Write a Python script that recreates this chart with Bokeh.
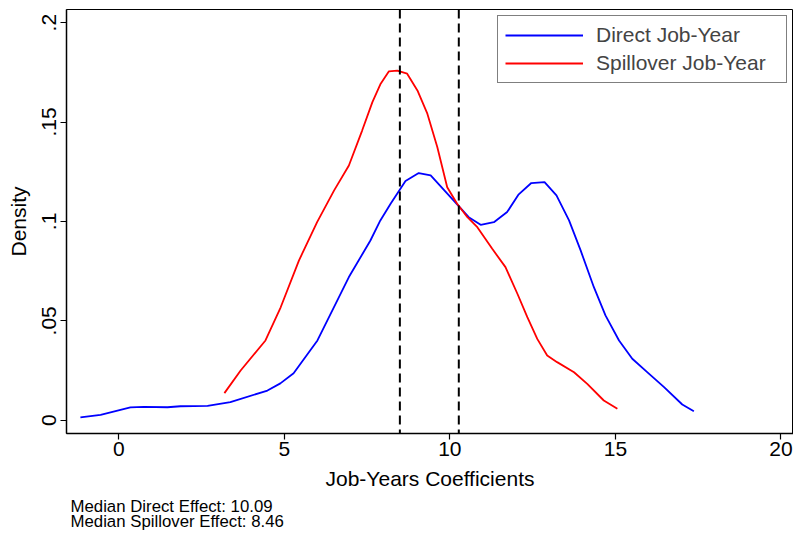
from bokeh.plotting import figure
from bokeh.models import Span, Legend, LegendItem, FixedTicker, Range1d, Title
from bokeh.embed import file_html
from bokeh.resources import INLINE

# ---- data ----
direct_x = [-1.16, -0.55, 0.35, 0.75, 1.47, 1.86, 2.68, 3.37, 4.49, 4.88, 5.28, 6.0, 6.95,
            7.60, 7.90, 8.21, 8.66, 9.06, 9.42, 10.02, 10.57, 10.93, 11.33, 11.73, 12.08,
            12.46, 12.86, 13.22, 13.60, 13.95, 14.35, 14.70, 15.11, 15.51, 15.96, 16.47,
            17.02, 17.37]
direct_y = [0.0014, 0.0027, 0.0064, 0.0067, 0.0065, 0.0070, 0.0072, 0.0091, 0.0149, 0.0185,
            0.0236, 0.0401, 0.0720, 0.0904, 0.1005, 0.1089, 0.1203, 0.1243, 0.1231, 0.1122,
            0.1021, 0.0983, 0.0996, 0.1047, 0.1136, 0.1193, 0.1198, 0.1131, 0.1005, 0.0854,
            0.0669, 0.0527, 0.0401, 0.0309, 0.0242, 0.0166, 0.0079, 0.0045]

spill_x = [3.19, 3.68, 4.43, 4.89, 5.44, 5.99, 6.50, 6.95, 7.35, 7.66, 7.91, 8.16, 8.41,
           8.71, 9.02, 9.32, 9.62, 9.92, 10.22, 10.53, 10.83, 11.28, 11.68, 12.04, 12.34,
           12.64, 12.94, 13.24, 13.75, 14.15, 14.65, 15.06]
spill_y = [0.0136, 0.0250, 0.0401, 0.0568, 0.0803, 0.0996, 0.1155, 0.1281, 0.1457, 0.1600,
           0.1693, 0.1755, 0.1758, 0.1743, 0.1659, 0.1542, 0.1374, 0.1172, 0.1089, 0.1021,
           0.0971, 0.0862, 0.0770, 0.0636, 0.0518, 0.0409, 0.0325, 0.0292, 0.0241, 0.0183,
           0.0099, 0.0057]

vline_positions = [8.49, 10.27]

x_ticks = [0, 5, 10, 15, 20]
y_ticks = [0, 0.05, 0.1, 0.15, 0.2]
y_tick_labels = ["0", ".05", ".1", ".15", ".2"]

series_names = ["Direct Job-Year", "Spillover Job-Year"]
notes = ["Median Direct Effect: 10.09", "Median Spillover Effect: 8.46"]

FONT = "Liberation Sans"

p = figure(width=793, height=533, output_backend="svg", toolbar_location=None,
           x_range=Range1d(-1.58, 20.38), y_range=Range1d(-0.0067, 0.2066),
           min_border_left=66, min_border_right=0, min_border_top=9, min_border_bottom=100)

p.background_fill_color = "white"
p.border_fill_color = "white"
p.outline_line_color = "black"
p.outline_line_width = 1
p.grid.visible = False

r1 = p.line(direct_x, direct_y, line_color="#0000ff", line_width=1.8)
r2 = p.line(spill_x, spill_y, line_color="#ff0000", line_width=1.8)

for v in vline_positions:
    p.add_layout(Span(location=v, dimension="height", line_color="black",
                      line_width=2, line_dash="9 5"))

# axes
p.xaxis.ticker = FixedTicker(ticks=x_ticks)
p.yaxis.ticker = FixedTicker(ticks=y_ticks)
p.yaxis.major_label_overrides = {t: l for t, l in zip(y_ticks, y_tick_labels)}
p.yaxis.major_label_orientation = "vertical"
for ax in (p.xaxis, p.yaxis):
    ax.axis_line_color = "black"
    ax.axis_line_width = 1.5
    ax.major_tick_line_color = "black"
    ax.major_tick_line_width = 1.2
    ax.major_tick_out = 6
    ax.major_tick_in = 0
    ax.minor_tick_line_color = None
    ax.major_label_text_font = FONT
    ax.major_label_text_font_size = "21px"
    ax.major_label_text_color = "black"
    ax.axis_label_text_font = FONT
    ax.axis_label_text_font_size = "21px"
    ax.axis_label_text_font_style = "normal"
    ax.axis_label_text_color = "black"
p.xaxis.major_label_text_line_height = 1.0
p.xaxis.axis_label_text_line_height = 1.0
p.xaxis.major_label_standoff = 2
p.xaxis.axis_label_standoff = 8
p.yaxis.major_label_standoff = 4
p.yaxis.axis_label_standoff = 10
p.xaxis.axis_label = "Job-Years Coefficients"
p.yaxis.axis_label = "Density"

legend = Legend(items=[LegendItem(label=series_names[0], renderers=[r1]),
                       LegendItem(label=series_names[1], renderers=[r2])],
                location="top_right")
legend.label_text_font = FONT
legend.label_text_font_size = "21px"
legend.glyph_width = 78
legend.glyph_height = 24
legend.label_height = 24
legend.label_width = 183
legend.label_standoff = 13
legend.spacing = 4
legend.padding = 7
legend.margin = 6
legend.border_line_color = "black"
legend.border_line_width = 1
legend.background_fill_alpha = 1
p.add_layout(legend)

note_title = Title(text="\n".join(notes), align="left", text_font=FONT,
                   text_font_size="16.8px", text_font_style="normal", text_color="black",
                   text_line_height=0.83, standoff=4, offset=4)
p.add_layout(note_title, "below")

open("out.html", "w").write(file_html(p, INLINE))
